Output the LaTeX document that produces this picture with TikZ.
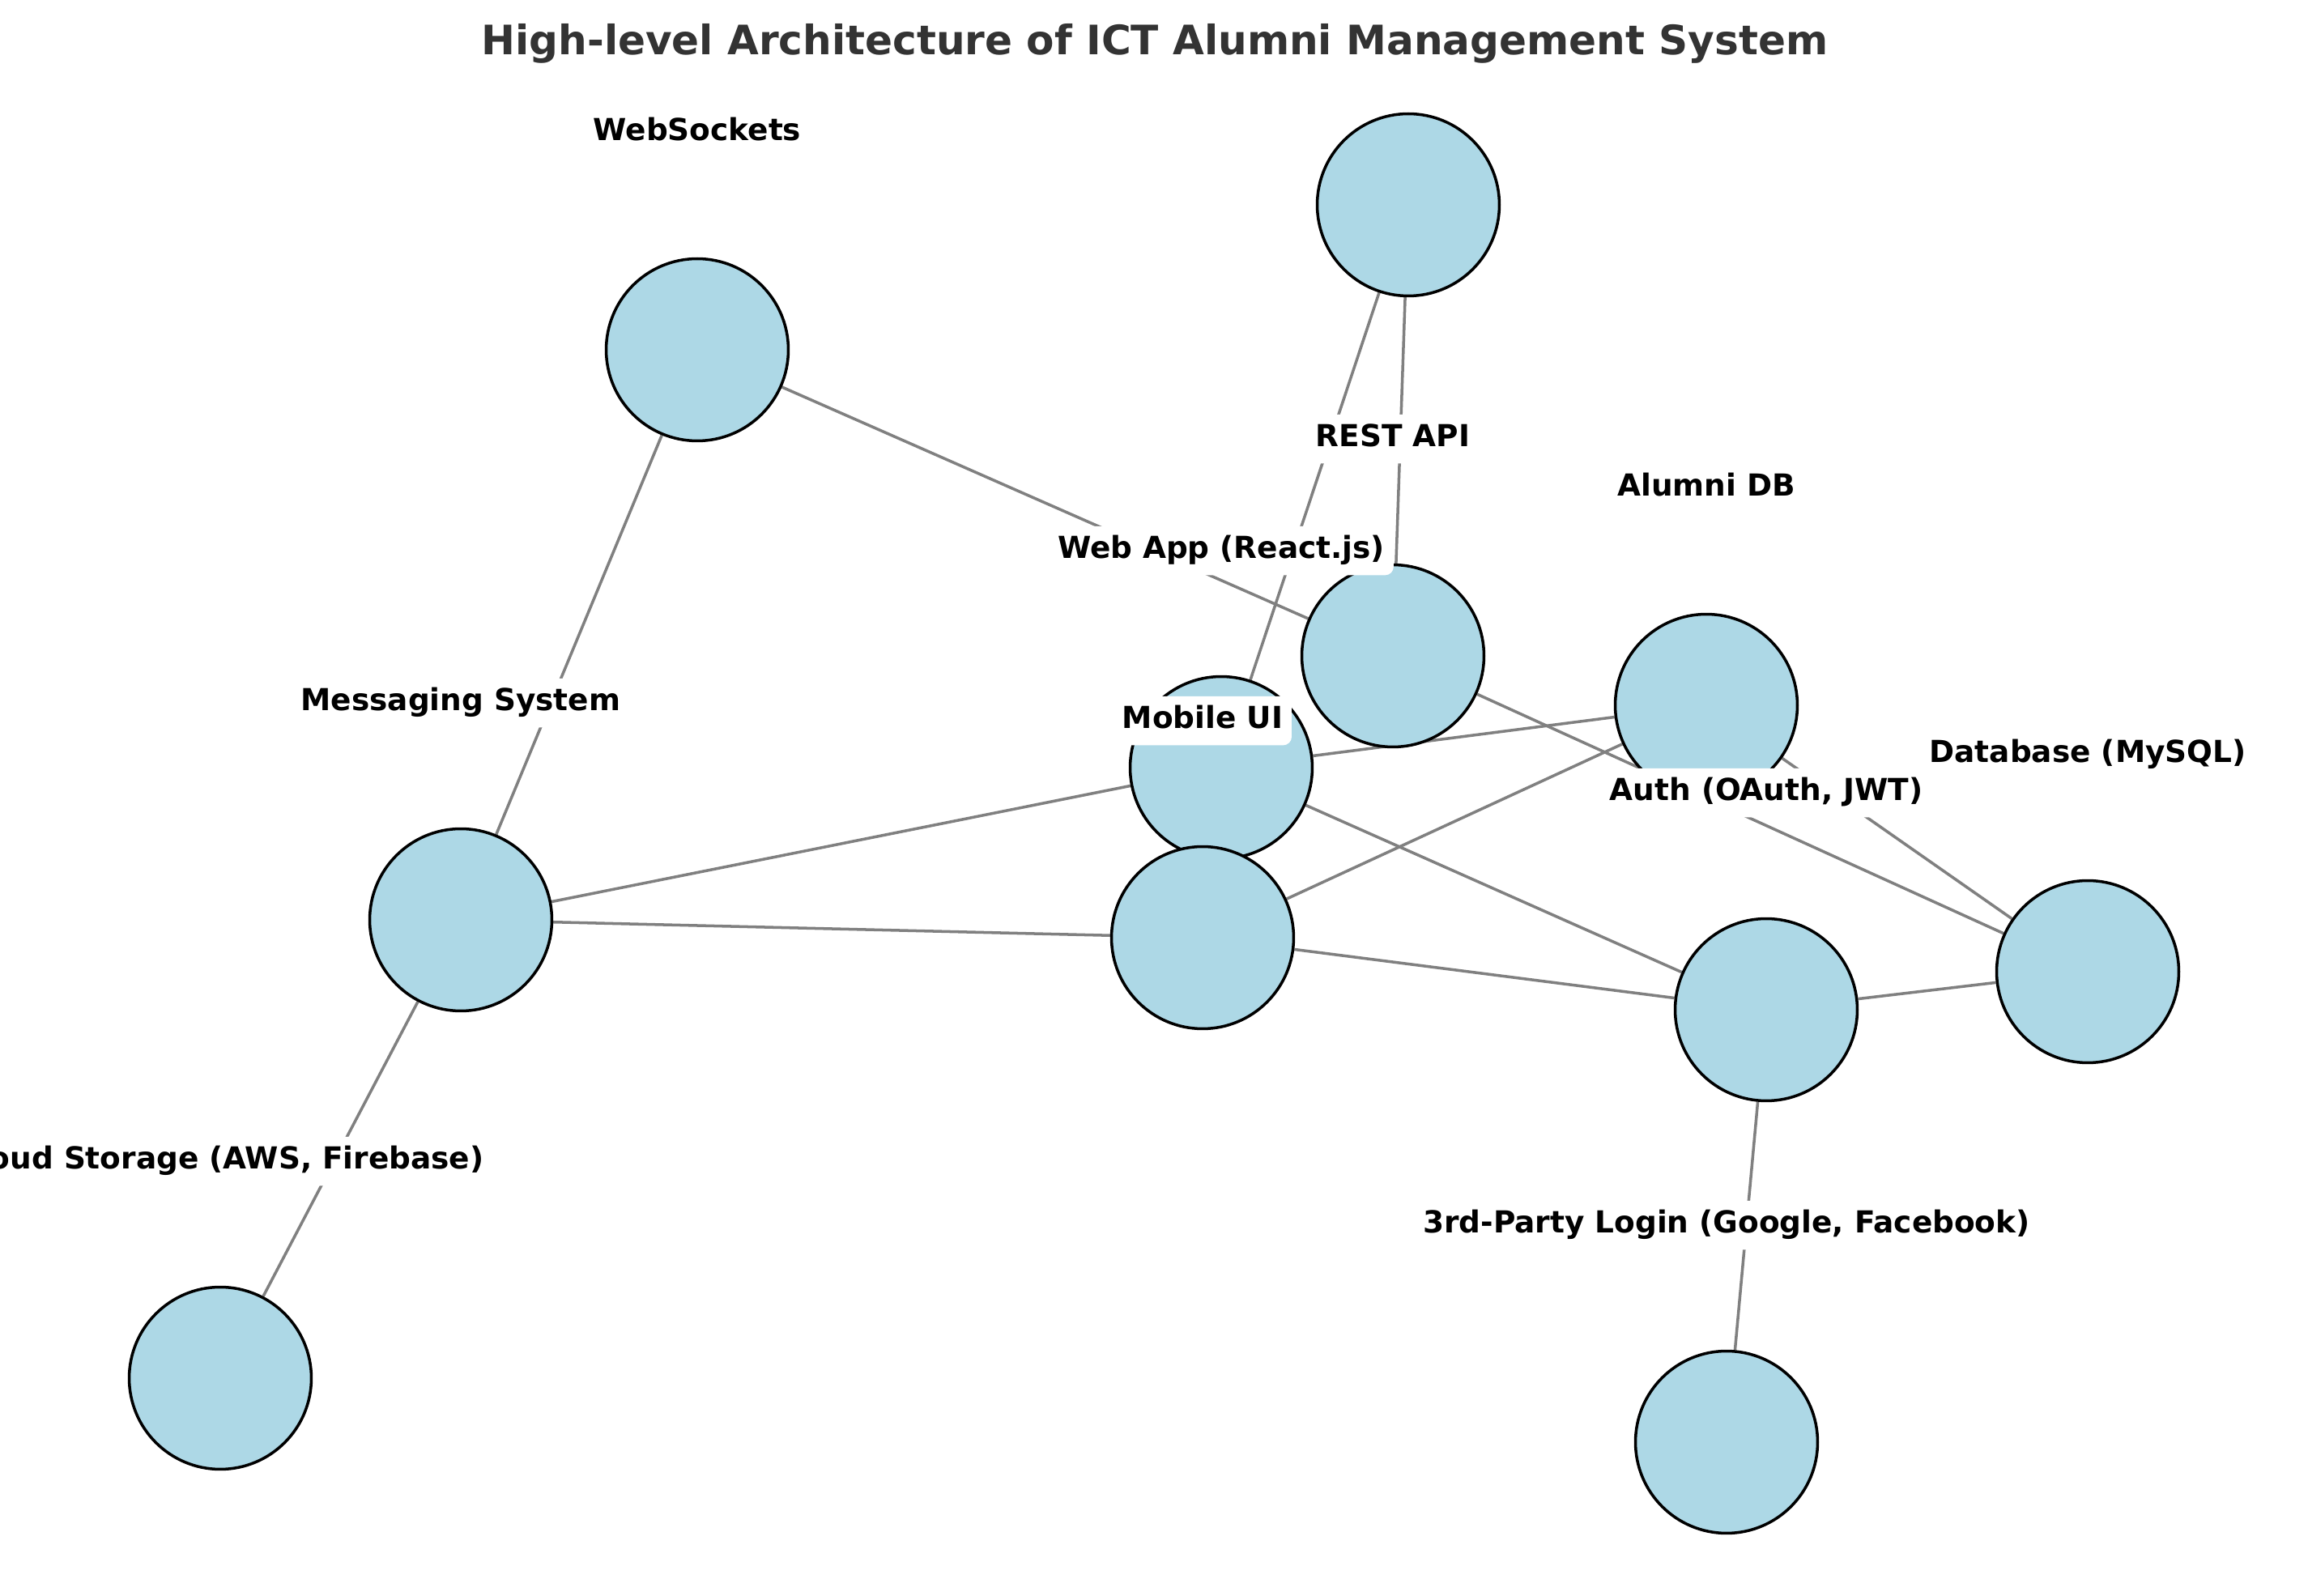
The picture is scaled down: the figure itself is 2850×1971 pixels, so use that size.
\documentclass[tikz,border=0pt]{standalone}
\usepackage{fontspec}
\setmainfont{DejaVu Sans}
\usetikzlibrary{backgrounds}
\definecolor{nodeblue}{HTML}{ADD8E6}
\definecolor{titlegray}{HTML}{333333}
\definecolor{edgegray}{HTML}{808080}
\begin{document}
\begin{tikzpicture}[x=0.2845pt,y=-0.2845pt,
  vnode/.style={circle,draw=black,line width=1pt,fill=nodeblue,minimum size=64pt,inner sep=0pt},
  lbl/.style={font=\fontsize{10.65}{12.8}\selectfont\bfseries,fill=white,rounded corners=3pt,inner sep=3.1pt,text height=8.3pt,text depth=2.7pt,anchor=base},
  link/.style={draw=edgegray,line width=1pt}]
\useasboundingbox (0,0) rectangle (2850,1971);
\clip (0,0) rectangle (2850,1971);

% nodes
\node[vnode] (top) at (1739,253) {};
\node[vnode] (ws) at (861,432) {};
\node[vnode] (rest) at (1720,810) {};
\node[vnode] (alumni) at (2107,871) {};
\node[vnode] (webapp) at (1508,948) {};
\node[vnode] (msg) at (569,1136) {};
\node[vnode] (mobile) at (1485,1158) {};
\node[vnode] (auth) at (2181,1247) {};
\node[vnode] (db) at (2578,1200) {};
\node[vnode] (cloud) at (272,1702) {};
\node[vnode] (third) at (2132,1781) {};

% edges below the nodes
\begin{scope}[on background layer]
\fill[white] (0,0) rectangle (2850,1971);
\draw[link] (top) -- (webapp);
\draw[link] (top) -- (rest);
\draw[link] (ws) -- (msg);
\draw[link] (ws) -- (rest);
\draw[link] (rest) -- (db);
\draw[link] (alumni) -- (db);
\draw[link] (msg) -- (webapp);
\draw[link] (webapp) -- (alumni);
\draw[link] (alumni) -- (mobile);
\draw[link] (msg) -- (mobile);
\draw[link] (msg) -- (cloud);
\draw[link] (webapp) -- (auth);
\draw[link] (mobile) -- (auth);
\draw[link] (auth) -- (db);
\draw[link] (auth) -- (third);
\end{scope}

% labels
\node[lbl] (l-ws) at (861,174) {WebSockets};
\node[lbl] (l-rest) at (1720,552) {REST API};
\node[lbl] (l-alumni) at (2107,613) {Alumni DB};
\node[lbl] (l-webapp) at (1508,690) {Web App (React.js)};
\node[lbl] (l-msg) at (569,878) {Messaging System};
\node[lbl] (l-mobile) at (1485,900) {Mobile UI};
\node[lbl] (l-db) at (2578,942) {Database (MySQL)};
\node[lbl] (l-auth) at (2181,989) {Auth (OAuth, JWT)};
\node[lbl] (l-cloud) at (272,1444) {Cloud Storage (AWS, Firebase)};
\node[lbl] (l-third) at (2132,1523) {3rd-Party Login (Google, Facebook)};

% title
\node[font=\fontsize{14.25}{17}\selectfont\bfseries,text=titlegray,anchor=base,inner sep=0pt] (title) at (1426,68) {High-level Architecture of ICT Alumni Management System};
\end{tikzpicture}
\end{document}
